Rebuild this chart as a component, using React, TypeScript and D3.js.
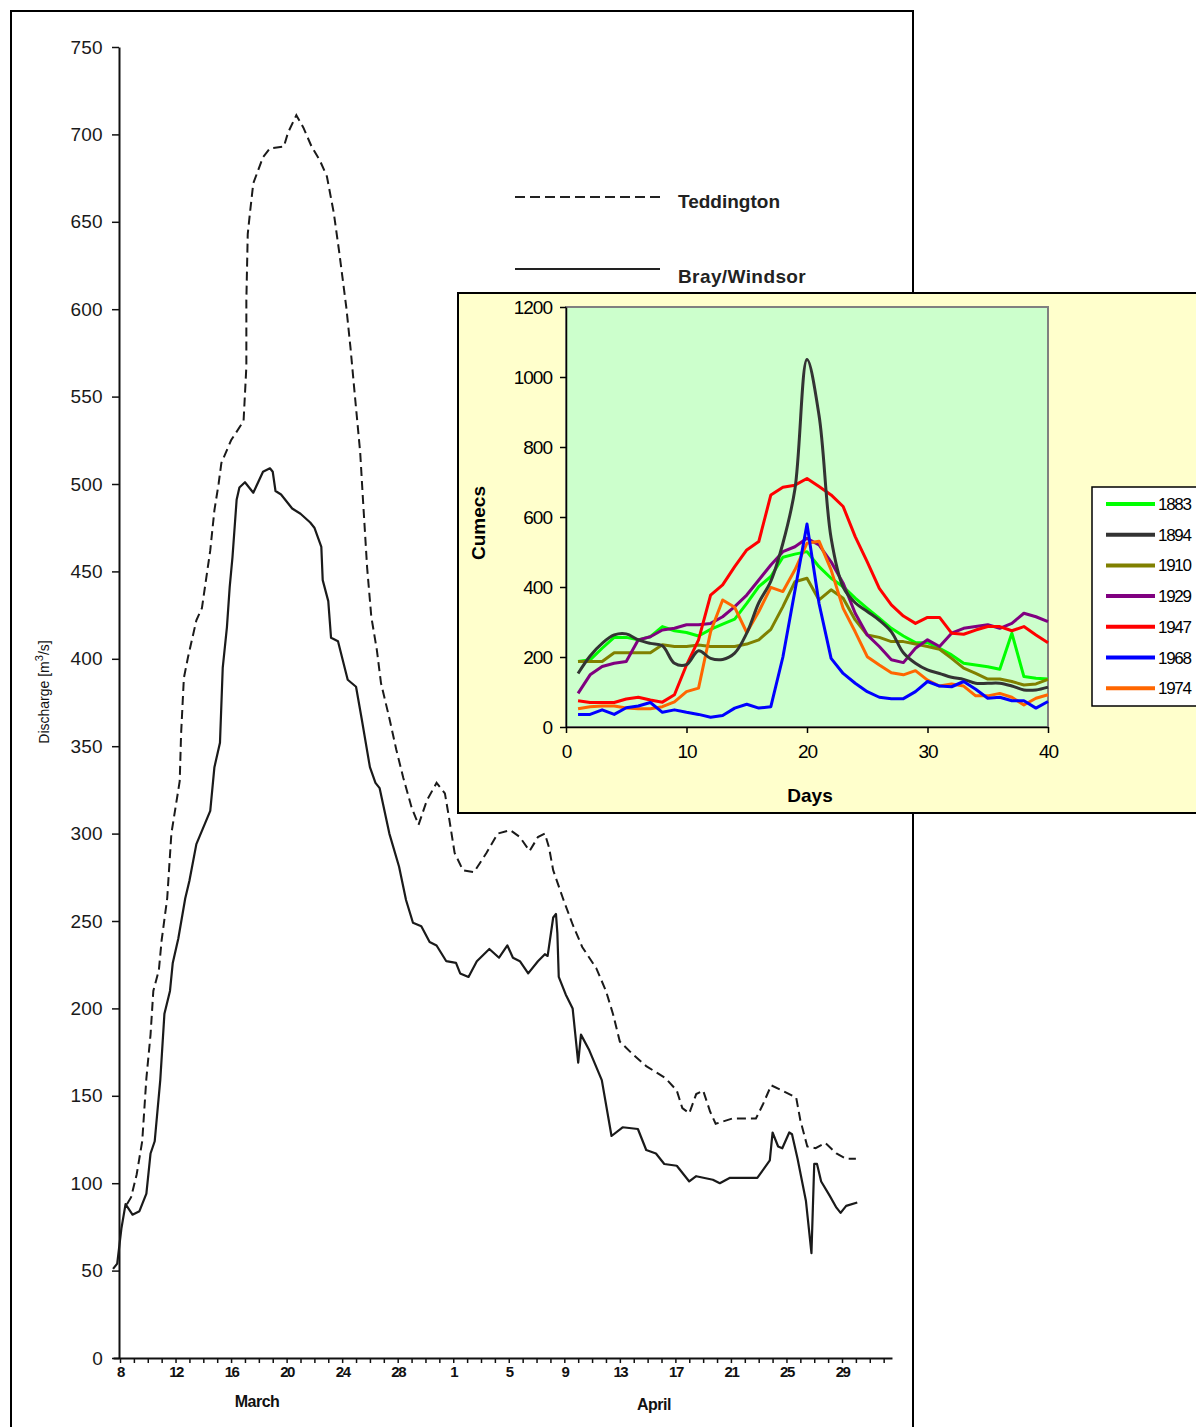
import React, { useEffect, useRef } from "react";
import * as d3 from "d3";

const W = 1196;
const H = 1427;

// Main chart: x = days counted from 8 March, y = discharge (m3/s)
const teddington: [number, number][] = [
  [0.5, 88], [0.8, 92], [1.2, 105], [1.6, 124], [1.9, 160], [2.2, 185], [2.4, 210], [2.8, 222],
  [3.0, 239], [3.4, 263], [3.7, 300], [4.3, 330], [4.4, 357], [4.6, 389], [4.9, 401], [5.5, 422],
  [5.9, 429], [6.5, 462], [6.8, 485], [7.1, 500], [7.3, 512], [8.0, 525], [8.9, 536], [9.1, 567],
  [9.1, 605], [9.2, 643], [9.4, 658], [9.6, 672], [10.3, 687], [10.8, 692], [11.8, 693], [12.1, 701],
  [12.7, 711], [13.2, 704], [13.8, 693], [14.4, 685], [14.9, 676], [15.4, 655], [15.8, 632], [16.3, 601],
  [16.6, 578], [16.9, 552], [17.3, 518], [17.5, 491], [17.8, 452], [18.1, 424], [18.5, 405], [18.8, 386],
  [19.4, 366], [19.9, 348], [20.4, 332], [21.0, 315], [21.5, 305], [22.1, 319], [22.8, 329], [23.4, 323],
  [23.7, 309], [24.1, 289], [24.7, 279], [25.5, 278], [26.4, 289], [27.2, 300], [28.1, 302], [28.8, 298],
  [29.5, 290], [30.1, 298], [30.6, 300], [30.9, 292], [31.2, 279], [31.9, 263], [32.6, 248], [33.3, 235],
  [34.3, 223], [35.0, 210], [35.5, 197], [36.0, 181], [36.9, 174], [37.9, 167], [39.3, 160], [40.1, 153],
  [40.5, 143], [41.0, 140], [41.5, 151], [42.0, 153], [42.5, 141], [42.9, 134], [44.1, 137], [45.8, 137],
  [46.3, 145], [46.9, 156], [47.7, 153], [48.7, 149], [49.0, 136], [49.5, 121], [50.1, 120], [50.8, 123],
  [51.6, 117], [52.3, 114], [53.0, 114],
];

const brayWindsor: [number, number][] = [
  [-0.5, 51], [-0.2, 54], [0.1, 74], [0.4, 88], [0.9, 82], [1.4, 84], [1.9, 94], [2.2, 117],
  [2.5, 124], [2.9, 159], [3.2, 197], [3.6, 210], [3.8, 226], [4.2, 240], [4.7, 263], [5.0, 273],
  [5.5, 294], [6.5, 313], [6.8, 338], [7.2, 352], [7.4, 395], [7.7, 418], [7.9, 441], [8.1, 458],
  [8.4, 491], [8.6, 498], [9.0, 501], [9.6, 495], [10.3, 507], [10.8, 509], [11.0, 507], [11.2, 496],
  [11.6, 494], [12.4, 486], [13.0, 483], [13.7, 478], [14.0, 475], [14.5, 464], [14.6, 445], [15.0, 433],
  [15.2, 412], [15.7, 410], [16.4, 388], [17.0, 384], [17.4, 366], [18.0, 338], [18.4, 329], [18.7, 326],
  [19.4, 300], [20.1, 281], [20.6, 262], [21.1, 249], [21.7, 247], [22.3, 238], [22.8, 236], [23.5, 227],
  [24.2, 226], [24.5, 220], [25.1, 218], [25.7, 227], [26.6, 234], [27.3, 229], [27.9, 236], [28.3, 229],
  [28.8, 227], [29.4, 220], [30.1, 227], [30.6, 231], [30.8, 230], [31.2, 252], [31.4, 254], [31.5, 243],
  [31.6, 218], [32.1, 208], [32.6, 200], [33.0, 169], [33.2, 185], [33.8, 176], [34.7, 159], [35.4, 127],
  [36.2, 132], [37.3, 131], [37.9, 119], [38.6, 117], [39.2, 111], [40.1, 110], [41.0, 101], [41.5, 104],
  [42.7, 102], [43.2, 100], [43.9, 103], [45.9, 103], [46.8, 113], [47.0, 129], [47.4, 121], [47.7, 120],
  [48.2, 129], [48.4, 128], [48.8, 114], [49.4, 90], [49.8, 60], [50.0, 111], [50.2, 111], [50.5, 101],
  [51.1, 93], [51.6, 86], [51.9, 83], [52.3, 87], [53.1, 89],
];

const mainYTicks = [0, 50, 100, 150, 200, 250, 300, 350, 400, 450, 500, 550, 600, 650, 700, 750];
const mainXLabelDays = [0, 4, 8, 12, 16, 20, 24, 28, 32, 36, 40, 44, 48, 52];
const mainXLabels = ["8", "12", "16", "20", "24", "28", "1", "5", "9", "13", "17", "21", "25", "29"];

// Inset chart: cumecs per day for each flood year
const insetDays = [1, 2, 3, 4, 5, 6, 7, 8, 9, 10, 11, 12, 13, 14, 15, 16, 17, 18, 19, 20,
  21, 22, 23, 24, 25, 26, 27, 28, 29, 30, 31, 32, 33, 34, 35, 36, 37, 38, 39, 40];

const y1883 = [187, 192, 225, 256, 256, 249, 258, 287, 275, 270, 260, 279, 294, 308, 353, 401, 430, 485, 494, 501,
  458, 425, 401, 368, 339, 311, 282, 260, 241, 241, 225, 206, 182, 177, 172, 165, 268, 144, 139, 137];
const y1894 = [153, 203, 239, 263, 266, 249, 239, 232, 182, 178, 218, 196, 193, 211, 268, 355, 417, 525, 680, 1050,
  890, 540, 400, 355, 330, 305, 272, 212, 182, 163, 153, 142, 136, 125, 125, 125, 117, 106, 106, 114];
const y1910 = [187, 187, 187, 212, 212, 212, 212, 235, 230, 230, 234, 230, 230, 230, 237, 249, 279, 344, 415, 425,
  363, 392, 368, 306, 263, 256, 244, 244, 237, 230, 222, 196, 168, 153, 137, 137, 130, 120, 123, 136];
const y1929 = [96, 149, 173, 182, 187, 249, 258, 277, 282, 292, 292, 296, 315, 344, 377, 420, 463, 501, 515, 539,
  520, 472, 411, 325, 263, 230, 192, 184, 225, 249, 230, 268, 282, 287, 292, 282, 296, 325, 315, 301];
const y1947 = [75, 70, 70, 70, 80, 85, 77, 71, 92, 177, 249, 377, 406, 458, 506, 530, 663, 685, 691, 710,
  687, 663, 630, 544, 472, 396, 349, 317, 296, 313, 313, 268, 265, 277, 287, 287, 275, 287, 263, 241];
const y1968 = [36, 36, 49, 36, 55, 60, 70, 42, 49, 42, 36, 28, 33, 54, 65, 54, 58, 200, 390, 580,
  353, 196, 153, 125, 101, 85, 81, 81, 101, 130, 117, 115, 130, 108, 82, 85, 75, 75, 54, 73];
const y1974 = [52, 58, 60, 60, 54, 52, 52, 58, 72, 101, 111, 272, 363, 342, 270, 330, 399, 387, 449, 525,
  531, 449, 339, 272, 201, 177, 155, 149, 161, 134, 117, 123, 117, 89, 89, 96, 85, 63, 82, 92];

const years = ["1883", "1894", "1910", "1929", "1947", "1968", "1974"];
const yearValues = [y1883, y1894, y1910, y1929, y1947, y1968, y1974];
const yearColors = ["#00FF00", "#333333", "#808000", "#800080", "#FF0000", "#0000FF", "#FF6600"];

const insetYTicks = [0, 200, 400, 600, 800, 1000, 1200];
const insetXTicks = [0, 10, 20, 30, 40];

const SANS = "'Liberation Sans', Arial, Helvetica, sans-serif";

export default function App() {
  const ref = useRef<SVGSVGElement>(null);

  useEffect(() => {
    const svg = d3.select(ref.current);
    svg.selectAll("*").remove();

    // ---------- main (scanned) chart ----------
    svg.append("rect")
      .attr("x", 11).attr("y", 11)
      .attr("width", 902).attr("height", 1450)
      .attr("fill", "#fff").attr("stroke", "#000").attr("stroke-width", 2);

    const x = d3.scaleLinear().domain([0, 52]).range([120, 842]);
    const y = d3.scaleLinear().domain([0, 750]).range([1358, 47]);
    const axisX = 119;

    const yAxis = d3.axisLeft(y).tickValues(mainYTicks).tickSize(7).tickSizeOuter(0).tickPadding(9);
    const gy = svg.append("g").attr("transform", `translate(${axisX},0)`).call(yAxis);
    gy.select(".domain").attr("stroke", "#111").attr("stroke-width", 2);
    gy.selectAll(".tick line").attr("stroke", "#111").attr("stroke-width", 1.5);
    gy.selectAll(".tick text")
      .style("font", `19px ${SANS}`).attr("fill", "#1a1a1a").attr("letter-spacing", 0.3);

    const xAxisScale = x.copy().domain([-0.5, 55.6]).range([x(-0.5), x(55.6)]);
    const dayTicks = d3.range(0, 56);
    const xAxis = d3.axisBottom(xAxisScale)
      .tickValues(dayTicks).tickSize(5).tickSizeOuter(0).tickPadding(3)
      .tickFormat((d) => {
        const i = mainXLabelDays.indexOf(d as number);
        return i >= 0 ? mainXLabels[i] : "";
      });
    const gx = svg.append("g").attr("transform", `translate(0,${y(0)})`).call(xAxis);
    gx.select(".domain").attr("stroke", "#111").attr("stroke-width", 2);
    gx.selectAll(".tick line").attr("stroke", "#111").attr("stroke-width", 1.5);
    gx.selectAll(".tick text")
      .style("font", `bold 15px ${SANS}`).attr("fill", "#111").attr("letter-spacing", -1.5);

    svg.append("text").attr("x", 257).attr("y", 1407).attr("text-anchor", "middle")
      .style("font", `bold 16px ${SANS}`).attr("letter-spacing", -0.5).attr("fill", "#111").text("March");
    svg.append("text").attr("x", 654).attr("y", 1410).attr("text-anchor", "middle")
      .style("font", `bold 16px ${SANS}`).attr("letter-spacing", -0.5).attr("fill", "#111").text("April");

    const yLabel = svg.append("text")
      .attr("transform", `translate(49,692) rotate(-90)`)
      .attr("text-anchor", "middle")
      .style("font", `14px ${SANS}`).attr("fill", "#111");
    yLabel.append("tspan").text("Discharge [m");
    yLabel.append("tspan").attr("dy", -6).style("font-size", "11px").text("3");
    yLabel.append("tspan").attr("dy", 6).text("/s]");

    const mainLine = d3.line<[number, number]>().x((d) => x(d[0])).y((d) => y(d[1]));

    svg.append("path").datum(teddington)
      .attr("d", mainLine).attr("fill", "none")
      .attr("stroke", "#1a1a1a").attr("stroke-width", 2).attr("stroke-dasharray", "9,5");
    svg.append("path").datum(brayWindsor)
      .attr("d", mainLine).attr("fill", "none")
      .attr("stroke", "#1a1a1a").attr("stroke-width", 2.2).attr("stroke-linejoin", "round");

    // legend of the main chart
    svg.append("line").attr("x1", 515).attr("x2", 660).attr("y1", 197).attr("y2", 197)
      .attr("stroke", "#222").attr("stroke-width", 2).attr("stroke-dasharray", "10,5");
    svg.append("text").attr("x", 678).attr("y", 208)
      .style("font", `bold 19px ${SANS}`).attr("fill", "#222").text("Teddington");
    svg.append("line").attr("x1", 515).attr("x2", 660).attr("y1", 269).attr("y2", 269)
      .attr("stroke", "#222").attr("stroke-width", 2);
    svg.append("text").attr("x", 678).attr("y", 283)
      .style("font", `bold 19px ${SANS}`).attr("fill", "#222").attr("letter-spacing", 0.4).text("Bray/Windsor");

    // ---------- inset (spreadsheet) chart ----------
    svg.append("rect")
      .attr("x", 458).attr("y", 293).attr("width", 760).attr("height", 520)
      .attr("fill", "#FFFFCC").attr("stroke", "#000").attr("stroke-width", 2);

    const xi = d3.scaleLinear().domain([0, 40]).range([566, 1048]);
    const yi = d3.scaleLinear().domain([0, 1200]).range([727, 307]);

    svg.append("rect")
      .attr("x", xi(0)).attr("y", yi(1200))
      .attr("width", xi(40) - xi(0)).attr("height", yi(0) - yi(1200))
      .attr("fill", "#CCFFCC").attr("stroke", "#808080").attr("stroke-width", 2);

    const yiAxis = d3.axisLeft(yi).tickValues(insetYTicks).tickFormat(d3.format("d"))
      .tickSize(6).tickSizeOuter(0).tickPadding(8);
    const giy = svg.append("g").attr("transform", `translate(${xi(0)},0)`).call(yiAxis);
    giy.select(".domain").attr("stroke", "#000").attr("stroke-width", 1.5);
    giy.selectAll(".tick line").attr("stroke", "#000").attr("stroke-width", 1.5);
    giy.selectAll(".tick text")
      .style("font", `19px ${SANS}`).attr("fill", "#000").attr("letter-spacing", -1);

    const xiAxis = d3.axisBottom(xi).tickValues(insetXTicks).tickFormat(d3.format("d"))
      .tickSize(6).tickSizeOuter(0).tickPadding(12);
    const gix = svg.append("g").attr("transform", `translate(0,${yi(0)})`).call(xiAxis);
    gix.select(".domain").attr("stroke", "#000").attr("stroke-width", 1.5);
    gix.selectAll(".tick line").attr("stroke", "#000").attr("stroke-width", 1.5);
    gix.selectAll(".tick text")
      .style("font", `19px ${SANS}`).attr("fill", "#000").attr("letter-spacing", -1);

    svg.append("text").attr("x", 810).attr("y", 802).attr("text-anchor", "middle")
      .style("font", `bold 19px ${SANS}`).attr("fill", "#000").text("Days");
    svg.append("text").attr("transform", "translate(485,523) rotate(-90)").attr("text-anchor", "middle")
      .style("font", `bold 19px ${SANS}`).attr("fill", "#000").text("Cumecs");

    const plot = svg.append("g");
    years.forEach((yr, k) => {
      const pts: [number, number][] = insetDays.map((d, i) => [d, yearValues[k][i]]);
      const line = d3.line<[number, number]>()
        .x((d) => xi(d[0])).y((d) => yi(d[1]))
        .curve(yr === "1894" ? d3.curveCatmullRom : d3.curveLinear);
      plot.append("path").datum(pts)
        .attr("d", line).attr("fill", "none")
        .attr("stroke", yearColors[k]).attr("stroke-width", 3)
        .attr("stroke-linejoin", "round");
    });
    // draw order in the picture: 1968 and 1894 sit on top of others near the peak
    plot.selectAll("path").filter((_, i) => i === 5 || i === 1).raise();

    // inset legend
    svg.append("rect")
      .attr("x", 1092).attr("y", 487).attr("width", 130).attr("height", 219)
      .attr("fill", "#fff").attr("stroke", "#000").attr("stroke-width", 1.5);
    const leg = svg.append("g");
    years.forEach((yr, k) => {
      const ly = 504 + k * 30.7;
      leg.append("line").attr("x1", 1106).attr("x2", 1155).attr("y1", ly).attr("y2", ly)
        .attr("stroke", yearColors[k]).attr("stroke-width", 4);
      leg.append("text").attr("x", 1158).attr("y", ly + 6)
        .style("font", `17px ${SANS}`).attr("letter-spacing", -1.3).attr("fill", "#000").text(yr);
    });
  }, []);

  return (
    <svg
      ref={ref}
      width={W}
      height={H}
      style={{ position: "absolute", left: 0, top: 0, background: "#fff" }}
    />
  );
}
